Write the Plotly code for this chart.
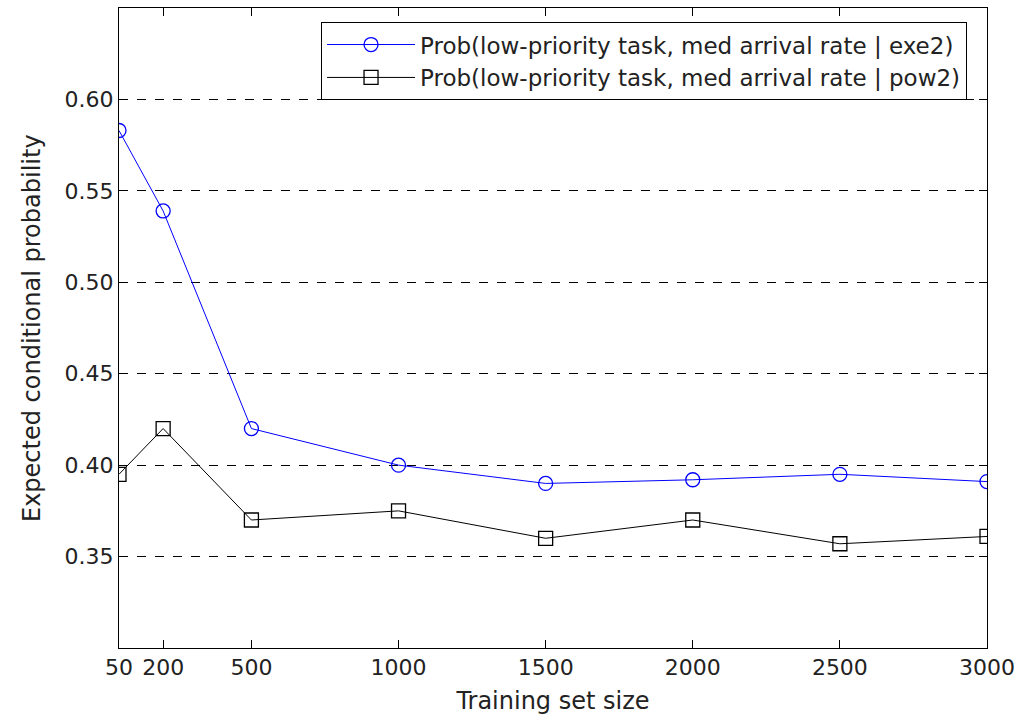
import plotly.graph_objects as go

sizes = [50, 200, 500, 1000, 1500, 2000, 2500, 3000]
exe2 = [0.583, 0.539, 0.420, 0.400, 0.390, 0.392, 0.395, 0.391]
pow2 = [0.395, 0.420, 0.370, 0.375, 0.360, 0.370, 0.357, 0.361]
x_ticks = [50, 200, 500, 1000, 1500, 2000, 2500, 3000]
y_ticks = [0.35, 0.40, 0.45, 0.50, 0.55, 0.60]
y_tick_labels = ["0.35", "0.40", "0.45", "0.50", "0.55", "0.60"]
name_exe2 = "Prob(low-priority task, med arrival rate | exe2)"
name_pow2 = "Prob(low-priority task, med arrival rate | pow2)"
x_title = "Training set size"
y_title = "Expected conditional probability"

FONT = "DejaVu Sans"

fig = go.Figure()
fig.add_trace(go.Scatter(
    x=sizes, y=exe2, name=name_exe2, mode="lines+markers",
    line=dict(color="#0000ff", width=1),
    marker=dict(symbol="circle-open", size=14, color="#0000ff", line=dict(width=1.3)),
))
fig.add_trace(go.Scatter(
    x=sizes, y=pow2, name=name_pow2, mode="lines+markers",
    line=dict(color="#000000", width=1),
    marker=dict(symbol="square-open", size=14, color="#000000", line=dict(width=1.3)),
))

fig.update_layout(
    width=1017, height=717,
    margin=dict(l=119, r=30, t=8, b=69, autoexpand=False),
    paper_bgcolor="white", plot_bgcolor="white",
    font=dict(family=FONT, size=22, color="#222222"),
    showlegend=True,
    legend=dict(
        x=0.977, y=0.978, xanchor="right", yanchor="top",
        bgcolor="white", bordercolor="black", borderwidth=1,
        font=dict(family=FONT, size=23, color="#222222"),
        tracegroupgap=0, itemwidth=88,
    ),
    xaxis=dict(
        range=[50, 3000], tickmode="array", tickvals=x_ticks,
        ticktext=[str(v) for v in x_ticks],
        ticks="inside", ticklen=8, tickcolor="black",
        showline=True, linecolor="black", linewidth=1, mirror="ticks",
        showgrid=False, zeroline=False, automargin=False,
        title=dict(text=x_title, font=dict(family=FONT, size=24, color="#222222"), standoff=12),
    ),
    yaxis=dict(
        range=[0.30, 0.65], tickmode="array", tickvals=y_ticks, ticktext=y_tick_labels,
        ticks="inside", ticklen=8, tickcolor="black",
        showline=True, linecolor="black", linewidth=1, mirror="ticks",
        showgrid=True, gridcolor="black", griddash="dash", gridwidth=1,
        zeroline=False, automargin=False,
    ),
    annotations=[dict(
        text=y_title, xref="paper", yref="paper", x=-0.1002, y=0.5,
        xanchor="center", yanchor="middle", textangle=-90, showarrow=False,
        font=dict(family=FONT, size=24, color="#222222"),
    )],
)

fig.write_html(
    "out.html",
    config={"displayModeBar": False},
    post_script="document.body.style.margin='0';document.body.style.overflow='hidden';",
)
